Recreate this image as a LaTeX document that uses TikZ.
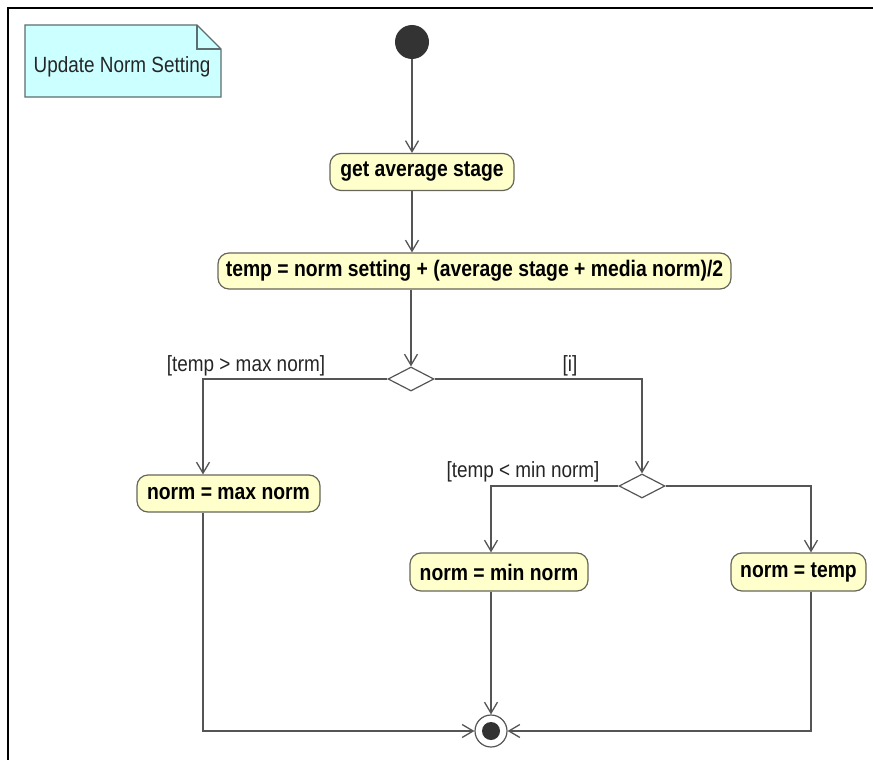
\documentclass[tikz,border=0pt]{standalone}
\usepackage{fontspec}
\setmainfont{Liberation Sans}
\newfontfamily\narrowsans[FakeStretch=0.86]{Liberation Sans}
\usetikzlibrary{arrows.meta,shapes.geometric}
\definecolor{linegray}{HTML}{555555}
\definecolor{actfill}{HTML}{FFFFCC}
\definecolor{actborder}{HTML}{66665A}
\definecolor{notefill}{HTML}{CCFFFF}
\definecolor{noteborder}{HTML}{5C6E6E}
\definecolor{dotfill}{HTML}{333333}
\tikzset{
  action/.style={rectangle, rounded corners=11pt, draw=actborder, fill=actfill,
    line width=1.2pt, font=\narrowsans\bfseries\fontsize{22.5}{24}\selectfont,
    inner sep=0pt, minimum height=37pt, text=black},
  decision/.style={diamond, draw=linegray, fill=white, line width=1.2pt,
    aspect=1.9, minimum width=46pt, minimum height=24pt, inner sep=0pt},
  guard/.style={font=\narrowsans\fontsize{22}{24}\selectfont, text=black!85, inner sep=0pt},
  flow/.style={draw=linegray, line width=1.3pt,
    -{Straight Barb[length=11pt,width=13pt,line width=1.3pt]}},
}
\begin{document}
\begin{tikzpicture}[x=1pt,y=-1pt]
\useasboundingbox (0,0) rectangle (873,760);
\fill[white] (0,0) rectangle (873,760);
% frame
\draw[line width=2.6pt] (8,760) -- (8,8) -- (873,8);

% note with folded corner
\draw[fill=notefill, draw=noteborder, line width=1.2pt]
  (25,25) -- (197,25) -- (221,49) -- (221,97) -- (25,97) -- cycle;
\draw[draw=noteborder, line width=1.2pt] (197,25) -- (197,49) -- (221,49);
\node[font=\narrowsans\fontsize{22}{24}\selectfont, text=black!85, inner sep=0pt] (note) at (122,67) {Update Norm Setting};

% initial node
\node[circle, fill=dotfill, minimum size=34pt, inner sep=0pt] (start) at (412,42) {};

% actions
\node[action, minimum width=184pt] (get) at (422,172) {get average stage};
\node[action, minimum width=513pt, minimum height=36pt] (calc) at (474.5,271)
  {temp = norm setting + (average stage + media norm)/2};
\node[action, minimum width=183pt] (maxn) at (228.5,493.5) {norm = max norm};
\node[action, minimum width=178pt, minimum height=38pt] (minn) at (499,572) {norm = min norm};
\node[action, minimum width=135pt, minimum height=38pt] (tmpn) at (798.5,572) {norm = temp};

% decisions
\node[decision] (d1) at (411,379) {};
\node[decision] (d2) at (642,486) {};

% final node
\node[circle, draw=linegray, fill=white, line width=1.2pt, minimum size=32pt, inner sep=0pt] (final) at (491,731) {};
\node[circle, fill=dotfill, minimum size=18pt, inner sep=0pt] (finaldot) at (final) {};

% guard labels
\node[guard] (g1) at (246,366) {[temp > max norm]};
\node[guard] (g2) at (570,366) {[i]};
\node[guard] (g3) at (523,472) {[temp < min norm]};

% control flow
\draw[flow] (start) -- (start |- get.north);
\draw[flow] (get.south -| start) -- (calc.north -| start);
\draw[flow] (calc.south -| d1) -- (d1.north);
\draw[flow] (d1.west) -| ([xshift=-25.5pt]maxn.north);
\draw[flow] (d1.east) -| (d2.north);
\draw[flow] (d2.west) -| ([xshift=-8pt]minn.north);
\draw[flow] (d2.east) -| ([xshift=12.5pt]tmpn.north);
\draw[flow] ([xshift=-25.5pt]maxn.south) |- (final.west);
\draw[flow] ([xshift=-8pt]minn.south) -- (final.north);
\draw[flow] ([xshift=12.5pt]tmpn.south) |- (final.east);
\end{tikzpicture}
\end{document}
